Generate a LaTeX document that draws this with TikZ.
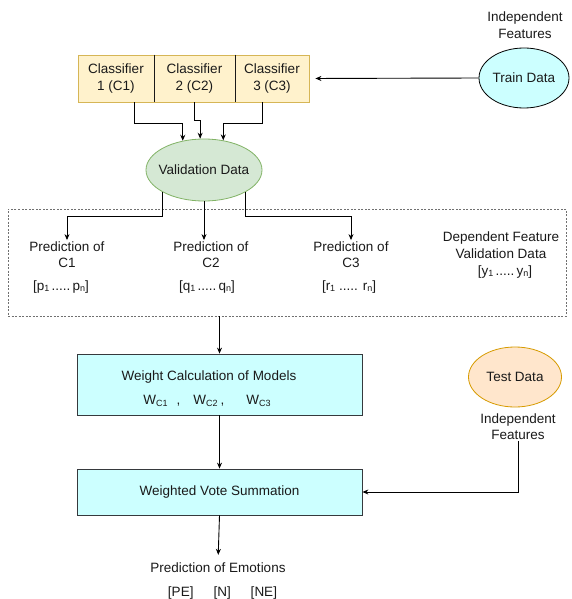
\documentclass[tikz,border=0pt]{standalone}
\usepackage{fontspec}
\setmainfont{Liberation Sans}
\definecolor{ink}{HTML}{1A1A1A}
\definecolor{clsFill}{HTML}{FFF2CC}
\definecolor{clsLine}{HTML}{D6B656}
\definecolor{valFill}{HTML}{D5E8D4}
\definecolor{valLine}{HTML}{82B366}
\definecolor{testFill}{HTML}{FFE6CC}
\definecolor{testLine}{HTML}{D79B00}
\definecolor{cyanFill}{HTML}{CCFFFF}
\definecolor{boxLine}{HTML}{36393D}
\definecolor{dotLine}{HTML}{707070}
\usetikzlibrary{arrows.meta,shapes.geometric}

% small index set close to the baseline
\newcommand{\lowidx}[1]{\raisebox{-1.5pt}{\fontsize{9}{9}\selectfont #1}}

\tikzset{
  arr/.style={-{Stealth[length=6pt,width=5pt]}, line width=0.9pt, draw=black},
  txt/.style={text=ink, align=center, inner sep=1pt},
  clsbox/.style={rectangle, draw=clsLine, fill=clsFill, line width=0.8pt,
    minimum height=47pt, align=center, inner sep=0pt, text=ink},
  calcbox/.style={rectangle, draw=boxLine, fill=cyanFill, line width=0.8pt,
    minimum width=285pt, inner sep=0pt, text=ink},
  blob/.style={ellipse, line width=0.8pt, inner sep=0pt, text=ink},
}

\begin{document}
\begin{tikzpicture}[x=1pt, y=-1pt, font=\fontsize{13.5}{16.5}\selectfont]
  \fill[white] (0,0) rectangle (571,599);
  \useasboundingbox (0,0) rectangle (571,599);

  % Classifiers
  \node[clsbox, minimum width=76pt] (c1) at (116,78.5) {Classifier\\1 (C1)};
  \node[clsbox, minimum width=81pt] (c2) at (194.5,78.5) {Classifier\\2 (C2)};
  \node[clsbox, minimum width=74pt] (c3) at (272,78.5) {Classifier\\3 (C3)};
  \draw[ink, line width=0.8pt] (c1.north east) -- (c1.south east);
  \draw[ink, line width=0.8pt] (c2.north east) -- (c2.south east);

  % Train data
  \node[txt] (trfeat) at (525,25) {Independent\\Features};
  \node[blob, draw=black, fill=cyanFill, minimum width=90pt, minimum height=60pt,
    label={[text=ink]center:Train Data}] (train) at (524,78) {};
  \draw[arr, shorten >=6pt] (train.west) -- (c3.east);

  % Validation data
  \node[blob, draw=valLine, fill=valFill, minimum width=116pt, minimum height=62pt,
    label={[text=ink]center:Validation Data}] (valid) at (204,170) {};
  \draw[arr] ([xshift=18pt]c1.south) -- ++(0,21) -| (valid.126);
  \draw[arr] ([xshift=-0.5pt]c2.south) -- ++(0,18) -| (valid.97);
  \draw[arr] ([xshift=-10pt]c3.south) -- ++(0,21) -| (valid.57);

  % Predictions on validation data
  \node[draw=dotLine, line width=0.7pt, dash pattern=on 2pt off 1.5pt,
    minimum width=558pt, minimum height=107pt, inner sep=0pt] (predbox) at (287,262.5) {};
  \node[txt] (pc1) at (67,254.5) {Prediction of\\C1};
  \node[txt] (pc2) at (211,254.5) {Prediction of\\C2};
  \node[txt] (pc3) at (351,254.5) {Prediction of\\C3};
  \node[txt] (pv1) at (61,287) {[p\lowidx{1}\,.....\,p\lowidx{n}]};
  \node[txt] (pv2) at (207,287) {[q\lowidx{1}\,.....\,q\lowidx{n}]};
  \node[txt] (pv3) at (349,287) {[r\lowidx{1} ..... r\lowidx{n}]};
  \node[txt] (dep) at (501,245) {Dependent Feature\\Validation Data};
  \node[txt] (yv) at (505,272) {[y\lowidx{1}\,.....\,y\lowidx{n}]};
  \draw[arr] (valid.208) -- ++(0,24) -| (pc1.north);
  \draw[arr] (valid.south) -- (valid.south |- pc2.north);
  \draw[arr] (valid.332) -- ++(0,24) -| (pc3.north);

  % Weights
  \node[calcbox, minimum height=61pt] (weight) at (219.5,384.5) {};
  \node[txt] (wtitle) at (209,377) {Weight Calculation of Models};
  \node[txt] (wvals) at (207,401) {W\lowidx{C1}\hspace{9pt},\hspace{13pt}W\lowidx{C2}\hspace{3pt},\hspace{22pt}W\lowidx{C3}};
  \draw[arr] (weight.north |- predbox.south) -- (weight.north);

  % Test data
  \node[blob, draw=testLine, fill=testFill, minimum width=93pt, minimum height=60pt,
    label={[text=ink]center:Test Data}] (test) at (515,377) {};
  \node[txt] (tsfeat) at (518,426.5) {Independent\\Features};

  % Voting
  \node[calcbox, minimum height=46pt] (vote) at (219.5,492) {Weighted Vote Summation};
  \draw[arr] (weight.south) -- (vote.north);
  \draw[arr] (tsfeat.south) |- (vote.east);

  % Output
  \node[txt] (emo) at (218,568) {Prediction of Emotions};
  \node[txt] (emov) at (222.5,593) {[PE]\hspace{20pt}[N]\hspace{20pt}[NE]};
  \draw[arr, shorten >=7pt] (vote.south) -- (emo.north);
\end{tikzpicture}
\end{document}
